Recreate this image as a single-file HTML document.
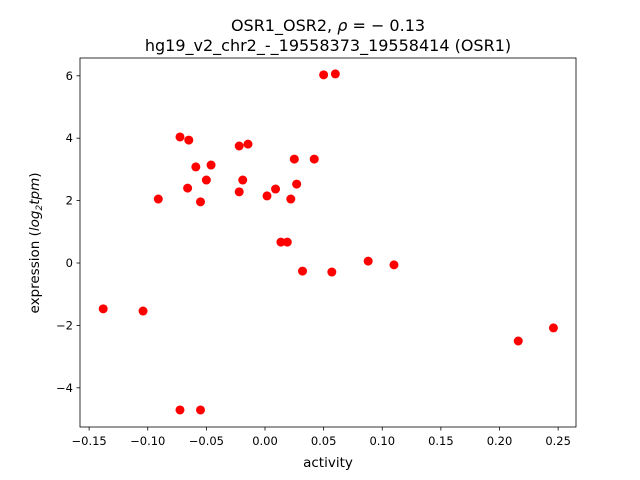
<!DOCTYPE html>
<html><head><meta charset="utf-8"><style>body{margin:0;background:#fff}svg{display:block}text{font-family:"DejaVu Sans","Liberation Sans",sans-serif;fill:#000}</style></head>
<body>
<svg id="chart" width="640" height="480"></svg>
<script>
const xs=[-0.138,-0.104,-0.091,-0.0725,-0.065,-0.066,-0.059,-0.055,-0.050,-0.046,-0.0725,-0.055,-0.022,-0.0145,-0.019,-0.022,0.0017,0.009,0.025,0.042,0.027,0.022,0.0136,0.019,0.032,0.057,0.050,0.060,0.088,0.110,0.216,0.246];
const ys=[-1.47,-1.54,2.05,4.04,3.94,2.40,3.08,1.96,2.66,3.14,-4.71,-4.71,3.75,3.81,2.66,2.28,2.15,2.37,3.33,3.33,2.53,2.05,0.67,0.67,-0.26,-0.29,6.03,6.06,0.06,-0.06,-2.50,-2.08];
const xTicks=[-0.15,-0.10,-0.05,0.00,0.05,0.10,0.15,0.20,0.25];
const xTickLabels=["−0.15","−0.10","−0.05","0.00","0.05","0.10","0.15","0.20","0.25"];
const yTicks=[-4,-2,0,2,4,6];
const yTickLabels=["−4","−2","0","2","4","6"];
const NS="http://www.w3.org/2000/svg";
const svg=document.getElementById('chart');
const L=80,R=576,T=58,B=427;
const sx=v=>265+v*1172.5;
const sy=v=>263-v*31.2;
function mk(t,a,p){const e=document.createElementNS(NS,t);for(const k in a)e.setAttribute(k,a[k]);(p||svg).appendChild(e);return e;}
for(let i=0;i<xs.length;i++){
 const c=mk('circle',{cx:sx(xs[i]),cy:sy(ys[i]),r:4.5,fill:'#ff0000'});
 
 
}
const f=mk('rect',{x:L,y:T,width:R-L,height:B-T,fill:'none',stroke:'#000','stroke-width':0.8});


xTicks.forEach((v,i)=>{
 const x=sx(v);
 mk('line',{x1:x,x2:x,y1:B,y2:B+3.5,stroke:'#000','stroke-width':0.8});
 const t=mk('text',{x:x,y:B+18,'text-anchor':'middle','font-size':11.5});
 t.textContent=xTickLabels[i];
 
 
});
yTicks.forEach((v,i)=>{
 const y=sy(v);
 mk('line',{x1:L-3.5,x2:L,y1:y,y2:y,stroke:'#000','stroke-width':0.8});
 const t=mk('text',{x:L-7,y:y+4,'text-anchor':'end','font-size':11.5});
 t.textContent=yTickLabels[i];
 
 
});
</script>
<svg width="640" height="480" style="position:absolute;left:0;top:0">
<text x="328" y="31" text-anchor="middle" font-size="16">OSR1_OSR2, <tspan font-style="italic">ρ</tspan> = − 0.13</text>
<text x="328" y="51" text-anchor="middle" font-size="16">hg19_v2_chr2_-_19558373_19558414 (OSR1)</text>
<text x="328" y="467" text-anchor="middle" font-size="13.5">activity</text>
<text transform="translate(39,243) rotate(-90)" text-anchor="middle" font-size="13.5">expression (<tspan font-style="italic">log</tspan><tspan font-size="9" dy="3" font-style="italic">2</tspan><tspan dy="-3" font-style="italic">tpm</tspan>)</text>
</svg>
</body></html>
